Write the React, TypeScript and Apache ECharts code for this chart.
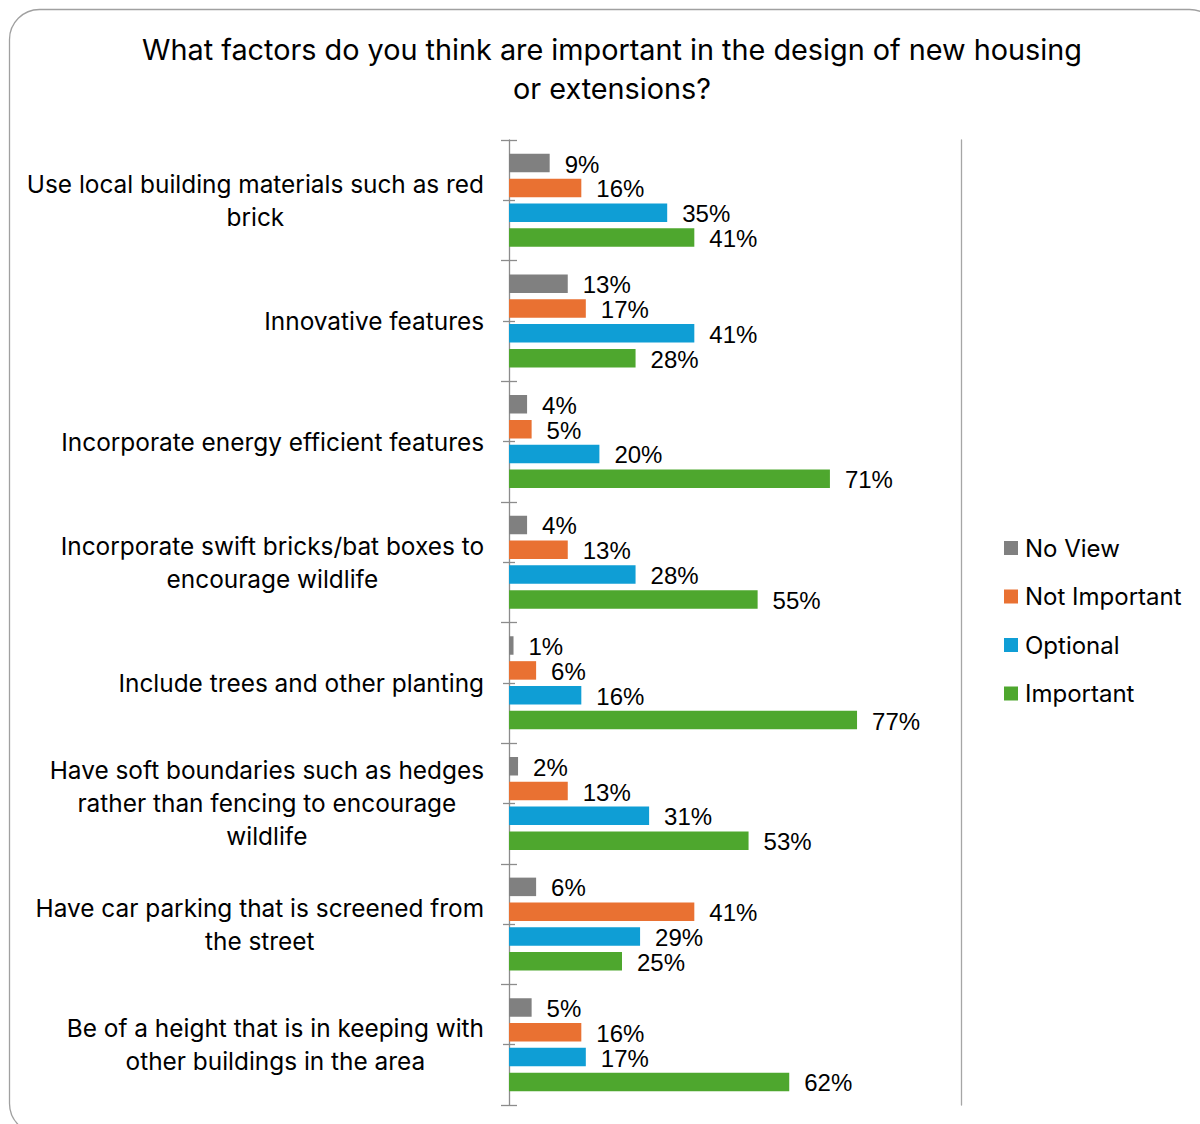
import React, { useEffect, useRef } from "react";
import * as echarts from "echarts";

const titleText = "What factors do you think are important in the design of new housing\nor extensions?";

const categories = [
  "Use local building materials such as red\nbrick",
  "Innovative features",
  "Incorporate energy efficient features",
  "Incorporate swift bricks/bat boxes to\nencourage wildlife",
  "Include trees and other planting",
  "Have soft boundaries such as hedges\nrather than fencing to encourage\nwildlife",
  "Have car parking that is screened from\nthe street",
  "Be of a height that is in keeping with\nother buildings in the area",
];

const seriesNames = ["No View", "Not Important", "Optional", "Important"];
const noView = [9, 13, 4, 4, 1, 2, 6, 5];
const notImportant = [16, 17, 5, 13, 6, 13, 41, 16];
const optional = [35, 41, 20, 28, 16, 31, 29, 17];
const important = [41, 28, 71, 55, 77, 53, 25, 62];
const seriesColors = ["#808080", "#E97132", "#0F9ED5", "#4EA72E"];

const FONT = "Inter";
const LABEL_FONT = "Liberation Sans";

export default function App() {
  const ref = useRef<HTMLDivElement>(null);

  useEffect(() => {
    document.body.style.margin = "0";
    const chart = echarts.init(ref.current!, null, { renderer: "svg" });
    const values = [noView, notImportant, optional, important];
    const axisColor = "#8C8C8C";

    const baseCat = {
      type: "category" as const,
      data: categories,
      inverse: true,
      position: "left" as const,
      gridIndex: 0,
    };

    chart.setOption({
      animation: false,
      backgroundColor: "#ffffff",
      title: {
        text: titleText,
        left: 607,
        top: 25,
        textAlign: "center",
        textStyle: {
          fontFamily: FONT,
          fontSize: 28.8,
          fontWeight: "normal",
          color: "#000000",
          lineHeight: 39,
        },
      },
      legend: {
        orient: "vertical",
        left: 1004,
        top: 536,
        itemWidth: 14,
        itemHeight: 14,
        itemGap: 24.5,
        icon: "rect",
        padding: 0,
        data: seriesNames,
        textStyle: {
          fontFamily: FONT,
          fontSize: 24,
          lineHeight: 24,
          color: "#000000",
          padding: [0, 0, 0, 2],
        },
      },
      graphic: [
        {
          type: "rect",
          shape: { x: 9.5, y: 9.5, width: 1210, height: 1124, r: 30 },
          style: { fill: "none", stroke: "#A0A0A0", lineWidth: 1.3 },
          silent: true,
          z: -1,
        },
      ],
      grid: {
        left: 509,
        right: 239,
        top: 140,
        bottom: 19,
        outerBoundsMode: "none",
      },
      xAxis: {
        type: "value",
        min: 0,
        max: 100,
        show: false,
      },
      yAxis: [
        {
          ...baseCat,
          axisLine: { show: true, lineStyle: { color: axisColor, width: 1.3 } },
          axisTick: { show: true, length: 8, interval: 0, lineStyle: { color: axisColor, width: 1.3 } },
          axisLabel: {
            show: true,
            interval: 0,
            margin: 25,
            formatter: (v: string) =>
              v
                .split("\n")
                .map((l) => `{c|${l}}`)
                .join("\n"),
            rich: {
              c: {
                align: "center",
                fontFamily: FONT,
                fontSize: 24.4,
                lineHeight: 33,
                color: "#000000",
              },
            },
          },
          splitLine: { show: false },
        },
        {
          ...baseCat,
          axisLine: { show: false },
          axisTick: { show: true, inside: true, length: 8, interval: 0, lineStyle: { color: axisColor, width: 1.3 } },
          axisLabel: { show: false, interval: 0 },
          splitLine: { show: false },
        },
        {
          ...baseCat,
          axisLine: { show: false },
          axisTick: { show: true, alignWithLabel: true, length: 6, interval: 0, lineStyle: { color: axisColor, width: 1.3 } },
          axisLabel: { show: false, interval: 0 },
          splitLine: { show: false },
        },
        {
          ...baseCat,
          axisLine: { show: false },
          axisTick: { show: true, inside: true, alignWithLabel: true, length: 6, interval: 0, lineStyle: { color: axisColor, width: 1.3 } },
          axisLabel: { show: false, interval: 0 },
          splitLine: { show: false },
        },
        {
          ...baseCat,
          position: "right" as const,
          axisLine: { show: true, lineStyle: { color: "#A6A6A6", width: 1.3 } },
          axisTick: { show: false },
          axisLabel: { show: false },
          splitLine: { show: false },
        },
      ],
      series: seriesNames.map((name, i) => ({
        name,
        type: "bar",
        yAxisIndex: 0,
        data: values[i],
        barCategoryGap: "23%",
        barGap: "34%",
        itemStyle: { color: seriesColors[i] },
        label: {
          show: true,
          position: "right",
          distance: 15,
          offset: [0, 1],
          formatter: "{c}%",
          fontFamily: LABEL_FONT,
          fontSize: 24,
          color: "#000000",
        },
      })),
    });

    return () => chart.dispose();
  }, []);

  return <div ref={ref} style={{ width: 1200, height: 1124 }} />;
}
